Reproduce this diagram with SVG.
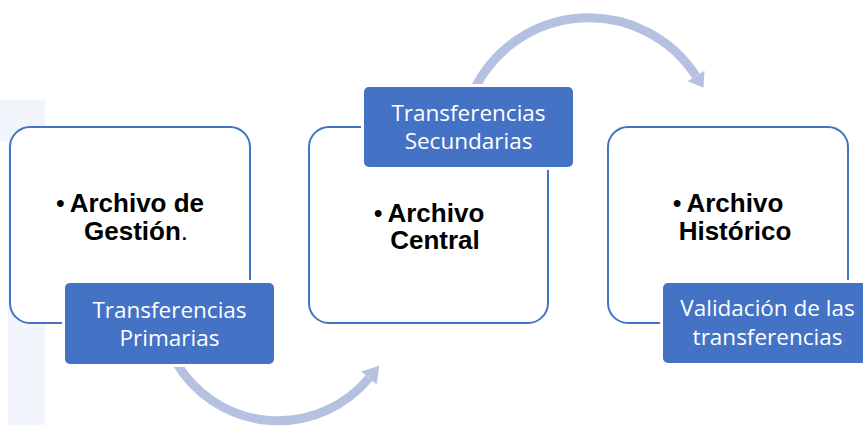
<svg xmlns="http://www.w3.org/2000/svg" width="863" height="426" viewBox="0 0 863 426">
<style>
.box{fill:#FFFFFF;stroke:#4472C4;stroke-width:2}
.halo{fill:#FFFFFF}
.lab{fill:#4472C4}
.lt{font-family:"Open Sans","Liberation Sans",sans-serif;font-size:22.5px;fill:#FFFFFF;text-anchor:middle}
.bt{font-family:"Liberation Sans",Arial,sans-serif;font-size:26px;font-weight:bold;fill:#000000;text-anchor:middle}
.nb{font-weight:normal}
.bu{font-weight:normal;font-size:25px}
.arc{fill:none;stroke:#B4C1E1;stroke-width:9}
.head{fill:#B4C1E1}
</style>
<rect x="0" y="100" width="45" height="41" fill="#F2F5FB"/>
<rect x="8" y="141" width="37" height="284" fill="#F2F5FB"/>
<g id="node-gestion">
<rect class="box" x="10" y="127" width="240" height="196" rx="20"/>
<text class="bt" x="130" y="212"><tspan class="bu">•</tspan><tspan dx="5">Archivo de</tspan></text>
<text class="bt" x="136" y="240">Gestión<tspan class="nb">.</tspan></text>
</g>
<g id="node-central">
<rect class="box" x="309" y="127" width="239" height="196" rx="20"/>
<text class="bt" x="429" y="222"><tspan class="bu">•</tspan><tspan dx="5">Archivo</tspan></text>
<text class="bt" x="435" y="249">Central</text>
</g>
<g id="node-historico">
<rect class="box" x="608" y="127" width="240" height="196" rx="20"/>
<text class="bt" x="728" y="212"><tspan class="bu">•</tspan><tspan dx="5">Archivo</tspan></text>
<text class="bt" x="735" y="240">Histórico</text>
</g>
<g id="connectors">
<path class="arc" d="M176,362 A118,118 0 0 0 369,378"/>
<polygon class="head" points="361.3,371.6 379.2,365.7 376.7,384.4"/>
<path class="arc" d="M474,90 A127.6,127.6 0 0 1 696,76"/>
<polygon class="head" points="687.5,81.3 704.5,70.7 703.5,87.8"/>
</g>
<g id="label-primarias">
<rect class="halo" x="62" y="280" width="215" height="87" rx="7"/>
<rect class="lab" x="65" y="283" width="209" height="81" rx="5"/>
<text class="lt" x="169.5" y="318">Transferencias</text>
<text class="lt" x="169.5" y="346">Primarias</text>
</g>
<g id="label-secundarias">
<rect class="halo" x="361" y="84" width="215" height="86" rx="7"/>
<rect class="lab" x="364" y="87" width="209" height="80" rx="5"/>
<text class="lt" x="468.5" y="121">Transferencias</text>
<text class="lt" x="468.5" y="149">Secundarias</text>
</g>
<g id="label-validacion">
<rect class="halo" x="660" y="280" width="215" height="86" rx="7"/>
<rect class="lab" x="663" y="283" width="209" height="80" rx="5"/>
<text class="lt" x="767.5" y="316">Validación de las</text>
<text class="lt" x="767.5" y="345">transferencias</text>
</g>
</svg>
